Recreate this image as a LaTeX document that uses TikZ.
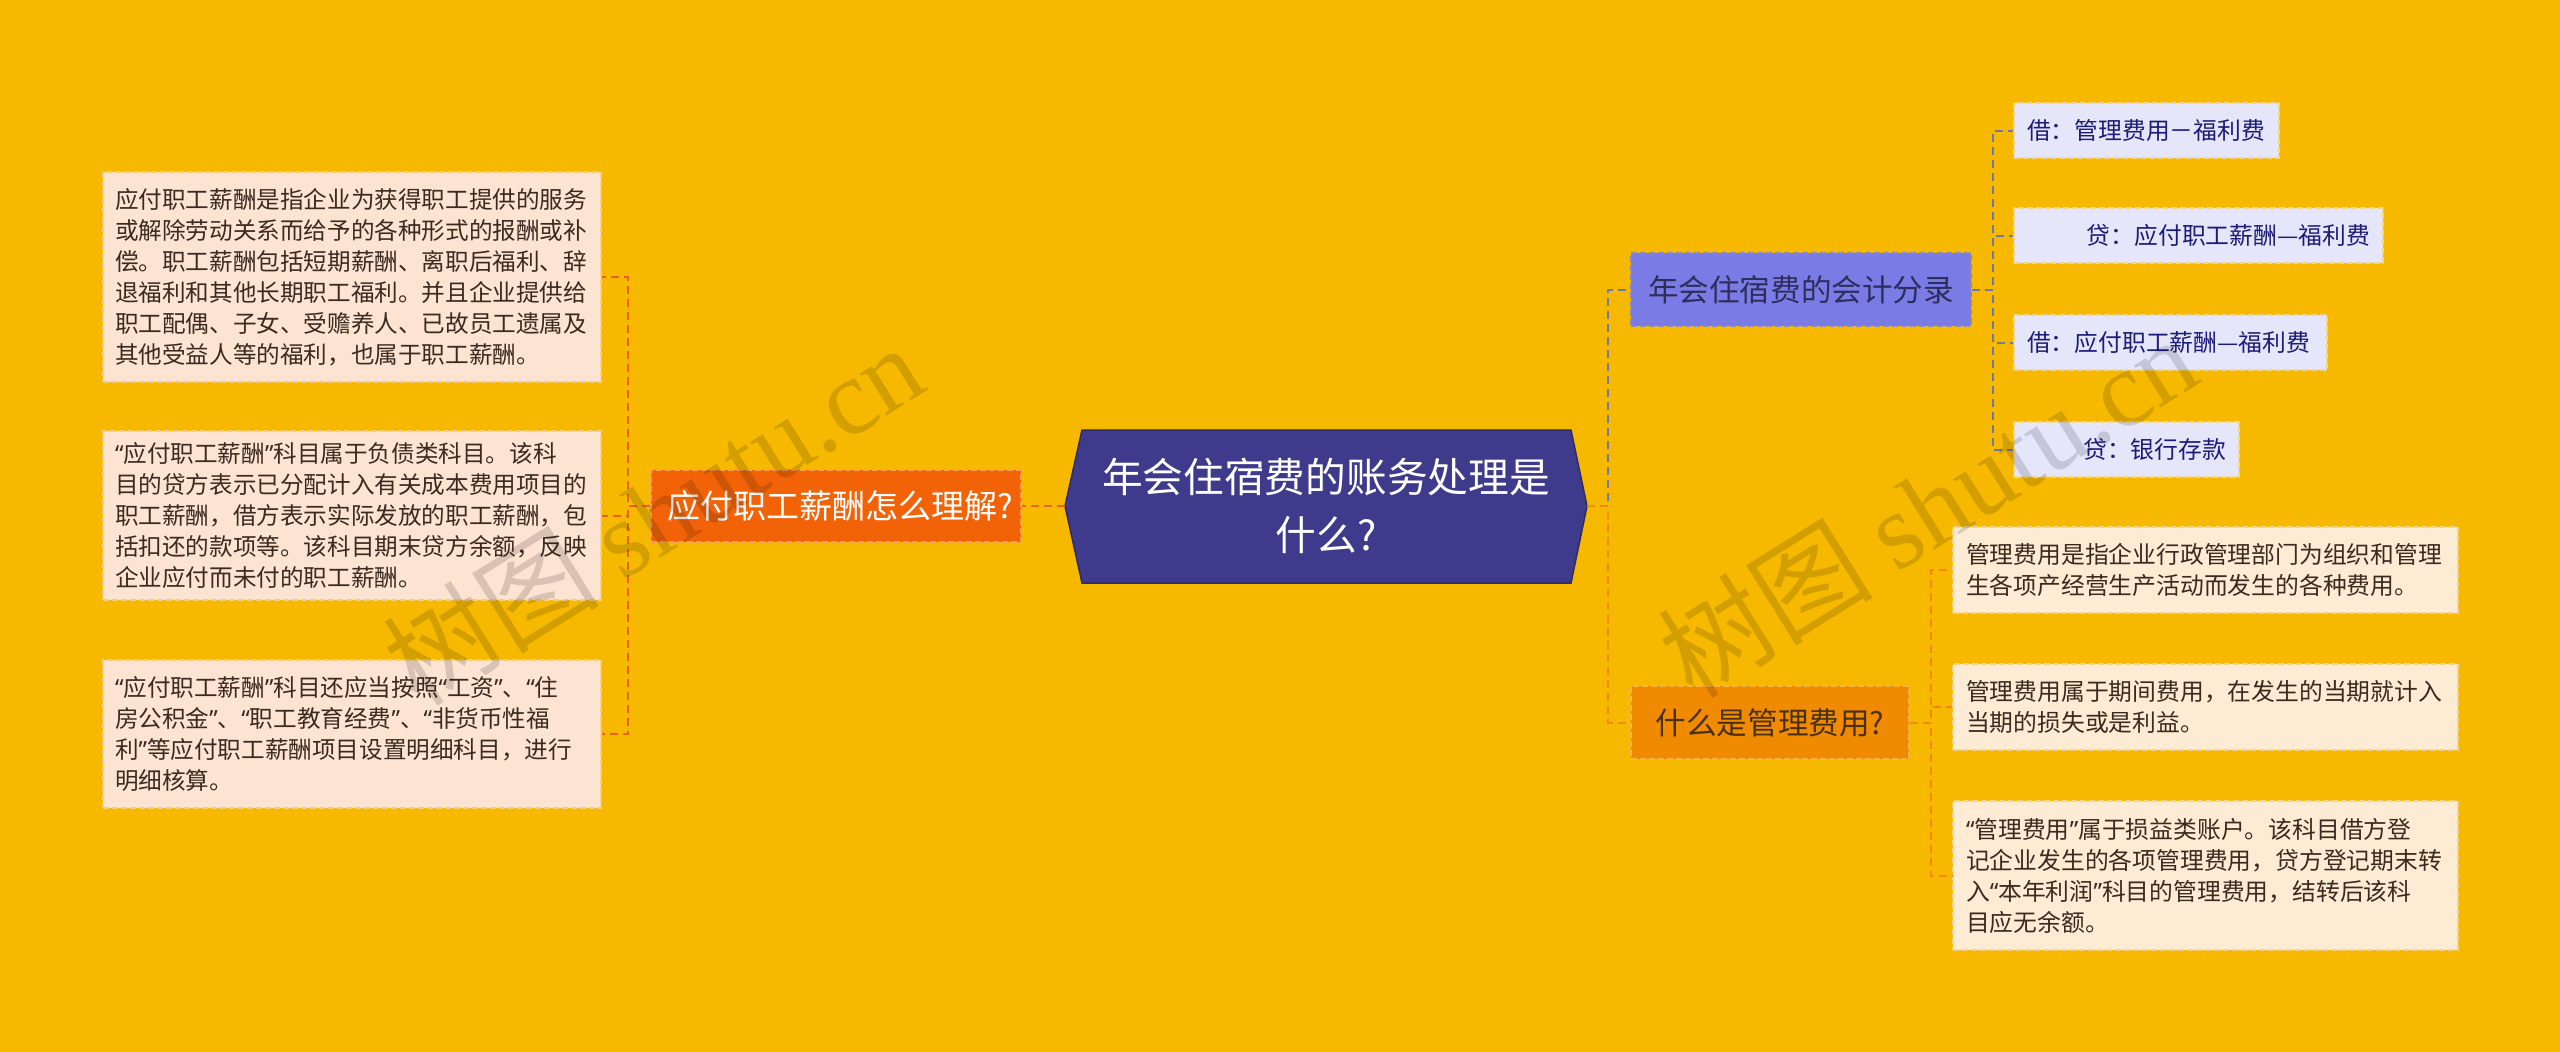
\documentclass[tikz,border=0pt]{standalone}
\usepackage{fontspec}
\setmainfont{Noto Sans CJK SC}
\newfontfamily\wmserif{Liberation Serif}
\newfontfamily\qfont{Noto Sans}
\newcommand{\myqo}{{\qfont“}}
\newcommand{\myqc}{{\qfont”}}
\definecolor{bgc}{HTML}{F6B900}
\definecolor{ctrfill}{HTML}{3E3A8C}
\definecolor{ctrline}{HTML}{2F2B66}
\definecolor{lbfill}{HTML}{F26308}
\definecolor{lbline}{HTML}{F8A055}
\definecolor{lcol}{HTML}{E8641C}
\definecolor{llfill}{HTML}{FDE3D2}
\definecolor{llline}{HTML}{F6CF78}
\definecolor{ltext}{HTML}{3A2A20}
\definecolor{rafill}{HTML}{7B7BE6}
\definecolor{raline}{HTML}{8A8AB4}
\definecolor{racol}{HTML}{7078A6}
\definecolor{ratext}{HTML}{2E2E5E}
\definecolor{rlfill}{HTML}{E5E6FA}
\definecolor{rlline}{HTML}{F2D88C}
\definecolor{rltext}{HTML}{1B1B78}
\definecolor{rbfill}{HTML}{F08A00}
\definecolor{rbline}{HTML}{F6B448}
\definecolor{rbcol}{HTML}{EE8A10}
\definecolor{rbtext}{HTML}{4A3010}
\definecolor{mlfill}{HTML}{FDEBD3}
\definecolor{mlline}{HTML}{F5D48A}
\begin{document}
\begin{tikzpicture}[x=1pt,y=-1pt,
  boxbase/.style={rectangle, inner xsep=13pt, inner ysep=0pt, line width=1.5pt, dash pattern=on 6pt off 3pt},
  leafL/.style={boxbase, fill=llfill, draw=llline, text=ltext, align=left, text width=474pt, inner xsep=12pt, minimum width=498pt, font=\fontsize{23.6}{31}\selectfont},
  leafM/.style={boxbase, fill=mlfill, draw=mlline, text=ltext, align=left, text width=479pt, minimum width=505pt, font=\fontsize{23.8}{31}\selectfont},
  leafR/.style={boxbase, fill=rlfill, draw=rlline, text=rltext, minimum height=55pt, font=\fontsize{23.8}{31}\selectfont},
  lbranch/.style={boxbase, fill=lbfill, draw=lbline, text=white, align=left, inner xsep=16pt, text width=338pt, minimum height=72pt, font=\fontsize{33}{40}\selectfont},
  rabranch/.style={boxbase, fill=rafill, draw=raline, text=ratext, align=left, inner xsep=16pt, minimum height=73pt, font=\fontsize{30.6}{38}\selectfont},
  rbbranch/.style={boxbase, fill=rbfill, draw=rbline, text=rbtext, align=left, inner xsep=16pt, minimum height=73pt, font=\fontsize{30.6}{38}\selectfont},
  lconn/.style={draw=lcol, line width=2pt, dash pattern=on 8pt off 5pt},
  aconn/.style={draw=racol, line width=2pt, dash pattern=on 8pt off 5pt},
  bconn/.style={draw=rbcol, line width=2pt, dash pattern=on 8pt off 5pt},
  wm/.style={text=black, text opacity=0.14, font=\fontsize{108}{118}\selectfont, inner sep=0pt}
]
\fill[bgc] (0,0) rectangle (2560,1052);
\useasboundingbox (0,0) rectangle (2560,1052);

% central node (hexagon)
\fill[ctrfill] (1082,430) -- (1571,430) -- (1587,506) -- (1571,583) -- (1082,583) -- (1065,506) -- cycle;
\draw[ctrline, line width=1.5pt] (1082,430) -- (1571,430) -- (1587,506) -- (1571,583) -- (1082,583) -- (1065,506) -- cycle;
\node[inner sep=0pt, minimum width=522pt, minimum height=153pt, text=white, align=center, font=\fontsize{40.7}{58}\selectfont] (ctr) at (1326,506) {年会住宿费的账务处理是\\什么?};

% left branch
\node[lbranch, minimum width=370pt] (lb) at (836,506) {应付职工薪酬怎么理解?};
\node[leafL, minimum height=210pt] (ll1) at (352,277) {应付职工薪酬是指企业为获得职工提供的服务\\或解除劳动关系而给予的各种形式的报酬或补\\偿。职工薪酬包括短期薪酬、离职后福利、辞\\退福利和其他长期职工福利。并且企业提供给\\职工配偶、子女、受赡养人、已故员工遗属及\\其他受益人等的福利，也属于职工薪酬。};
\node[leafL, minimum height=169pt] (ll2) at (352,515.5) {\myqo 应付职工薪酬\myqc 科目属于负债类科目。该科\\目的贷方表示已分配计入有关成本费用项目的\\职工薪酬，借方表示实际发放的职工薪酬，包\\括扣还的款项等。该科目期末贷方余额，反映\\企业应付而未付的职工薪酬。};
\node[leafL, minimum height=148pt] (ll3) at (352,734) {\myqo 应付职工薪酬\myqc 科目还应当按照\myqo 工资\myqc 、\myqo 住\\房公积金\myqc 、\myqo 职工教育经费\myqc 、\myqo 非货币性福\\利\myqc 等应付职工薪酬项目设置明细科目，进行\\明细核算。};

% right branch A
\node[rabranch, minimum width=340pt] (rb1) at (1801,289.5) {年会住宿费的会计分录};
\node[leafR, align=left, text width=239pt, minimum width=265pt] (r1) at (2146.5,130.5) {借：管理费用－福利费};
\node[leafR, align=right, text width=343pt, minimum width=369pt] (r2) at (2198.5,235.5) {贷：应付职工薪酬—福利费};
\node[leafR, align=left, text width=287pt, minimum width=313pt] (r3) at (2170.5,342.5) {借：应付职工薪酬—福利费};
\node[leafR, align=right, text width=199pt, minimum width=225pt] (r4) at (2126.5,449.5) {贷：银行存款};

% right branch B
\node[rbbranch, minimum width=278pt] (rb2) at (1770,722.5) {什么是管理费用?};
\node[leafM, minimum height=86pt] (m1) at (2205.5,570) {管理费用是指企业行政管理部门为组织和管理\\生各项产经营生产活动而发生的各种费用。};
\node[leafM, minimum height=86pt] (m2) at (2205.5,707) {管理费用属于期间费用，在发生的当期就计入\\当期的损失或是利益。};
\node[leafM, minimum height=149pt] (m3) at (2205.5,875.5) {\myqo 管理费用\myqc 属于损益类账户。该科目借方登\\记企业发生的各项管理费用，贷方登记期末转\\入\myqo 本年利润\myqc 科目的管理费用，结转后该科\\目应无余额。};

% connectors
\draw[lconn] (ctr.west) -- (lb.east);
\draw[lconn] (lb.west) -- ++(-22,0) |- (ll1.east);
\draw[lconn] (lb.west) -- ++(-22,0) |- (ll2.east);
\draw[lconn] (lb.west) -- ++(-22,0) |- (ll3.east);

\draw[aconn] (ctr.east) -- ++(21,0) |- (rb1.west);
\draw[bconn] (ctr.east) -- ++(21,0) |- (rb2.west);

\draw[aconn] (rb1.east) -- ++(21,0) |- (r1.west);
\draw[aconn] (rb1.east) -- ++(21,0) |- (r2.west);
\draw[aconn] (rb1.east) -- ++(21,0) |- (r3.west);
\draw[aconn] (rb1.east) -- ++(21,0) |- (r4.west);

\draw[bconn] (rb2.east) -- ++(21,0) |- (m1.west);
\draw[bconn] (rb2.east) -- ++(21,0) |- (m2.west);
\draw[bconn] (rb2.east) -- ++(21,0) |- (m3.west);

% watermarks
\node[wm, rotate=32] (wm1) at (653,514) {树图 {\wmserif shutu.cn}};
\node[wm, rotate=32] (wm2) at (1927,506) {树图 {\wmserif shutu.cn}};
\end{tikzpicture}
\end{document}
